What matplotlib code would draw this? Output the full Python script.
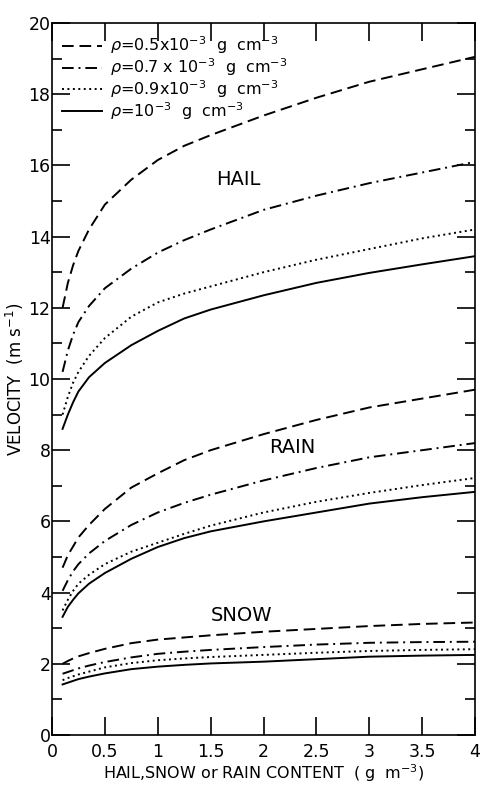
import matplotlib
matplotlib.use("Agg")
import matplotlib.pyplot as plt
from matplotlib.ticker import MultipleLocator

# water content (g m^-3)
content = [0.1, 0.15, 0.2, 0.25, 0.35, 0.5, 0.75, 1.0, 1.25, 1.5, 2.0, 2.5, 3.0, 3.5, 4.0]

legend_labels = [
    r"$\rho$=0.5x10$^{-3}$  g  cm$^{-3}$",
    r"$\rho$=0.7 x 10$^{-3}$  g  cm$^{-3}$",
    r"$\rho$=0.9x10$^{-3}$  g  cm$^{-3}$",
    r"$\rho$=10$^{-3}$  g  cm$^{-3}$",
]

# fall velocity (m s^-1), one list per density
hail_05 = [12.0, 12.7, 13.2, 13.6, 14.2, 14.9, 15.6, 16.15, 16.55, 16.85, 17.4, 17.9, 18.35, 18.7, 19.05]
hail_07 = [10.2, 10.8, 11.25, 11.6, 12.05, 12.55, 13.1, 13.55, 13.9, 14.2, 14.75, 15.15, 15.5, 15.8, 16.1]
hail_09 = [9.0, 9.5, 9.9, 10.2, 10.65, 11.15, 11.75, 12.15, 12.4, 12.6, 13.0, 13.35, 13.65, 13.95, 14.2]
hail_10 = [8.6, 9.0, 9.35, 9.65, 10.05, 10.45, 10.95, 11.35, 11.7, 11.95, 12.35, 12.7, 12.98, 13.22, 13.45]

rain_05 = [4.7, 5.05, 5.3, 5.55, 5.9, 6.35, 6.95, 7.35, 7.72, 8.0, 8.45, 8.85, 9.2, 9.45, 9.7]
rain_07 = [4.05, 4.35, 4.6, 4.8, 5.1, 5.45, 5.9, 6.25, 6.52, 6.75, 7.15, 7.5, 7.8, 8.0, 8.2]
rain_09 = [3.5, 3.8, 4.05, 4.25, 4.5, 4.8, 5.15, 5.4, 5.65, 5.88, 6.25, 6.55, 6.8, 7.02, 7.22]
rain_10 = [3.32, 3.6, 3.8, 3.98, 4.25, 4.55, 4.95, 5.28, 5.53, 5.72, 6.0, 6.25, 6.5, 6.68, 6.83]

snow_05 = [2.0, 2.08, 2.15, 2.21, 2.3, 2.42, 2.58, 2.68, 2.74, 2.8, 2.9, 2.98, 3.06, 3.12, 3.16]
snow_07 = [1.72, 1.77, 1.82, 1.87, 1.95, 2.05, 2.18, 2.28, 2.34, 2.39, 2.47, 2.54, 2.59, 2.61, 2.62]
snow_09 = [1.54, 1.6, 1.65, 1.7, 1.78, 1.9, 2.02, 2.1, 2.15, 2.19, 2.25, 2.31, 2.36, 2.39, 2.41]
snow_10 = [1.42, 1.47, 1.52, 1.57, 1.64, 1.73, 1.85, 1.92, 1.97, 2.01, 2.06, 2.13, 2.2, 2.23, 2.25]

hail = [hail_05, hail_07, hail_09, hail_10]
rain = [rain_05, rain_07, rain_09, rain_10]
snow = [snow_05, snow_07, snow_09, snow_10]

styles = [(0, (6, 3)), (0, (6, 2.5, 1, 2.5)), (0, (1, 1.8)), "-"]

fig = plt.figure(figsize=(4.81, 7.85), dpi=100)
ax = fig.add_axes([52 / 481, 50 / 785, 423 / 481, 712 / 785])

lw = 1.4
for i, ls in enumerate(styles):
    ax.plot(content, hail[i], color="black", lw=lw, ls=ls, label=legend_labels[i])
    ax.plot(content, rain[i], color="black", lw=lw, ls=ls)
    ax.plot(content, snow[i], color="black", lw=lw, ls=ls)

ax.text(1.76, 15.6, "HAIL", fontsize=14, ha="center", va="center")
ax.text(2.27, 8.08, "RAIN", fontsize=14, ha="center", va="center")
ax.text(1.79, 3.35, "SNOW", fontsize=14, ha="center", va="center")

ax.set_xlim(0, 4)
ax.set_ylim(0, 20)
ax.yaxis.set_major_locator(MultipleLocator(2))
ax.yaxis.set_minor_locator(MultipleLocator(1))
ax.set_xticks([0, 0.5, 1, 1.5, 2, 2.5, 3, 3.5, 4])
ax.set_xticklabels(["0", "0.5", "1", "1.5", "2", "2.5", "3", "3.5", "4"])

ax.tick_params(which="both", direction="in", top=True, right=True, width=1.2)
ax.tick_params(which="major", length=13, labelsize=12.5)
ax.tick_params(which="minor", length=7)
ax.tick_params(axis="y", pad=1)
ax.tick_params(axis="x", pad=5.5)
for s in ax.spines.values():
    s.set_linewidth(1.2)

ax.set_xlabel(r"HAIL,SNOW or RAIN CONTENT  ( g  m$^{-3}$)", fontsize=11.5)
ax.set_ylabel(r"VELOCITY  (m s$^{-1}$)", fontsize=12)
ax.xaxis.set_label_coords(0.5, -0.038)
ax.yaxis.set_label_coords(-0.062, 0.5)

ax.legend(loc="upper left", bbox_to_anchor=(0.0, 0.997), frameon=False,
          fontsize=11.5, handlelength=2.5, handletextpad=0.5,
          labelspacing=0.0, borderaxespad=0.2)

fig.savefig("out.png", dpi=100)
